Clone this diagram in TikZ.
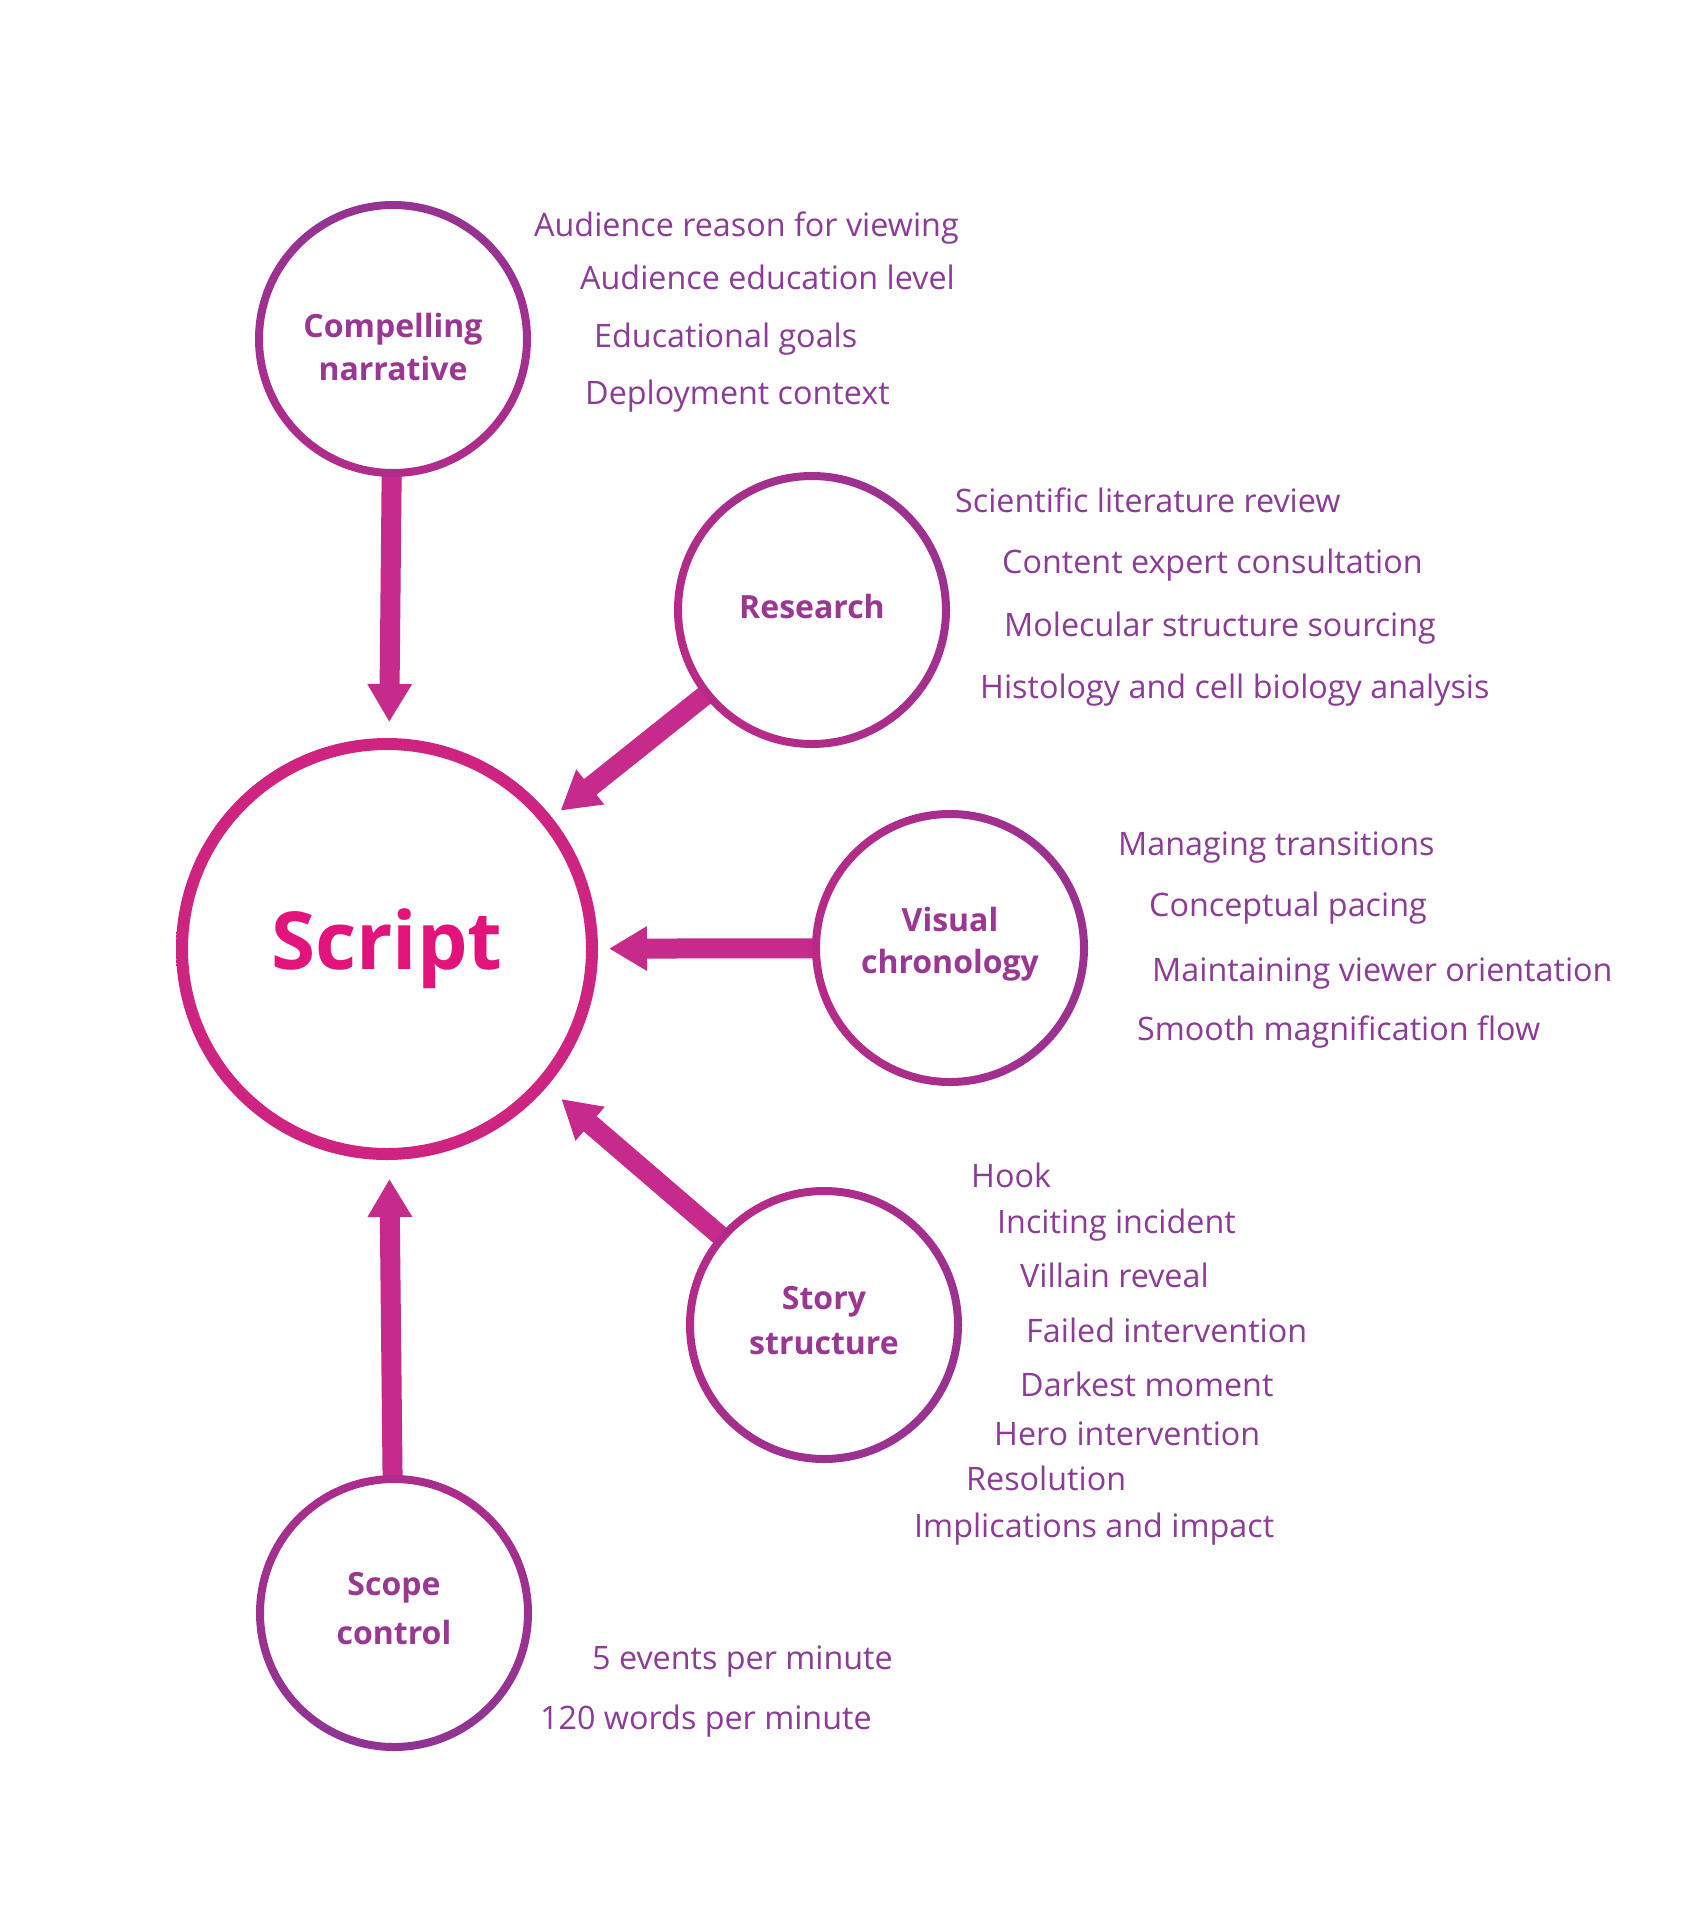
\documentclass[tikz,border=0pt]{standalone}
\usepackage{fontspec}
\setmainfont{Open Sans}
\usetikzlibrary{arrows.meta}
\definecolor{pinkC}{HTML}{E41E7A}
\definecolor{purpC}{HTML}{7A3A9A}
\definecolor{arrowC}{HTML}{C62A8A}
\definecolor{labelC}{HTML}{9A3792}
\definecolor{listC}{HTML}{8C3B97}
\definecolor{scriptC}{HTML}{E2137A}
\begin{document}
\begin{tikzpicture}[x=1pt,y=-1pt,
  hub/.style={circle, minimum size=268pt, inner sep=0pt, outer sep=0pt},
  hubtext/.style={inner sep=0pt, align=center, text=labelC, font=\fontsize{32}{43}\selectfont\bfseries},
  core/.style={circle, minimum size=410pt, inner sep=0pt, outer sep=0pt, text=scriptC, font=\fontsize{80}{90}\selectfont\bfseries},
  item/.style={anchor=mid west, inner sep=0pt, text=listC, font=\fontsize{32.3}{36}\selectfont},
  flow/.style={draw=arrowC, line width=20pt, -{Triangle[length=38pt,width=42pt]}}
]
\fill[white] (0,0) rectangle (1684,1920);
\useasboundingbox (0,0) rectangle (1684,1920);

% main nodes
\node[core] (sc) at (387,949) {Script};
\node[hub] (cn) at (393,339) {};
\node[hub] (rs) at (812,610) {};
\node[hub] (vc) at (950,948) {};
\node[hub] (ss) at (824,1325) {};
\node[hub] (sp) at (394,1613) {};

% circle labels
\node[hubtext] (cnt) at ([yshift=-8pt]cn.center) {Compelling\\narrative};
\node[hubtext] (rst) at ([yshift=4pt]rs.center) {Research};
\node[hubtext, font=\fontsize{32}{42}\selectfont\bfseries] (vct) at ([yshift=4pt]vc.center) {Visual\\chronology};
\node[hubtext, font=\fontsize{32}{45}\selectfont\bfseries] (sst) at ([yshift=4pt]ss.center) {Story\\structure};
\node[hubtext, font=\fontsize{32}{49}\selectfont\bfseries] (spt) at ([yshift=4pt]sp.center) {Scope\\control};

% connectors
\draw[flow, shorten >=22pt] (cn) -- (sc);
\draw[flow, shorten >=17pt] (rs) -- (sc);
\draw[flow, shorten >=17pt] (vc) -- (sc);
\draw[flow, shorten >=25pt] (ss) -- (sc);
\draw[flow, shorten >=25pt] (sp) -- (sc);

% rings with radial colour shading centred on Script
\begin{scope}[even odd rule]
\clip
  (sc.center) circle[radius=211] (sc.center) circle[radius=199]
  (cn.center) circle[radius=138] (cn.center) circle[radius=130]
  (rs.center) circle[radius=138] (rs.center) circle[radius=130]
  (vc.center) circle[radius=138] (vc.center) circle[radius=130]
  (ss.center) circle[radius=138] (ss.center) circle[radius=130]
  (sp.center) circle[radius=138] (sp.center) circle[radius=130];
\shade[inner color=pinkC, outer color=purpC] (sc.center) circle[radius=1000];
\end{scope}

% lists
\node[item] (a1) at (534,234) {Audience reason for viewing};
\node[item] (a2) at (580,287) {Audience education level};
\node[item] (a3) at (594,345) {Educational goals};
\node[item] (a4) at (585,402) {Deployment context};

\node[item] (b1) at (955,510) {Scientific literature review};
\node[item] (b2) at (1002,571) {Content expert consultation};
\node[item] (b3) at (1004,634) {Molecular structure sourcing};
\node[item] (b4) at (980,696) {Histology and cell biology analysis};

\node[item] (c1) at (1118,853) {Managing transitions};
\node[item] (c2) at (1149,914) {Conceptual pacing};
\node[item] (c3) at (1152,979) {Maintaining viewer orientation};
\node[item] (c4) at (1137,1038) {Smooth magnification flow};

\node[item] (d1) at (971,1185) {Hook};
\node[item] (d2) at (997,1231) {Inciting incident};
\node[item] (d3) at (1020,1285) {Villain reveal};
\node[item] (d4) at (1026,1340) {Failed intervention};
\node[item] (d5) at (1020,1394) {Darkest moment};
\node[item] (d6) at (994,1443) {Hero intervention};
\node[item] (d7) at (966,1488) {Resolution};
\node[item] (d8) at (914,1535) {Implications and impact};

\node[item] (e1) at (592,1667) {5 events per minute};
\node[item] (e2) at (540,1727) {120 words per minute};
\end{tikzpicture}
\end{document}
